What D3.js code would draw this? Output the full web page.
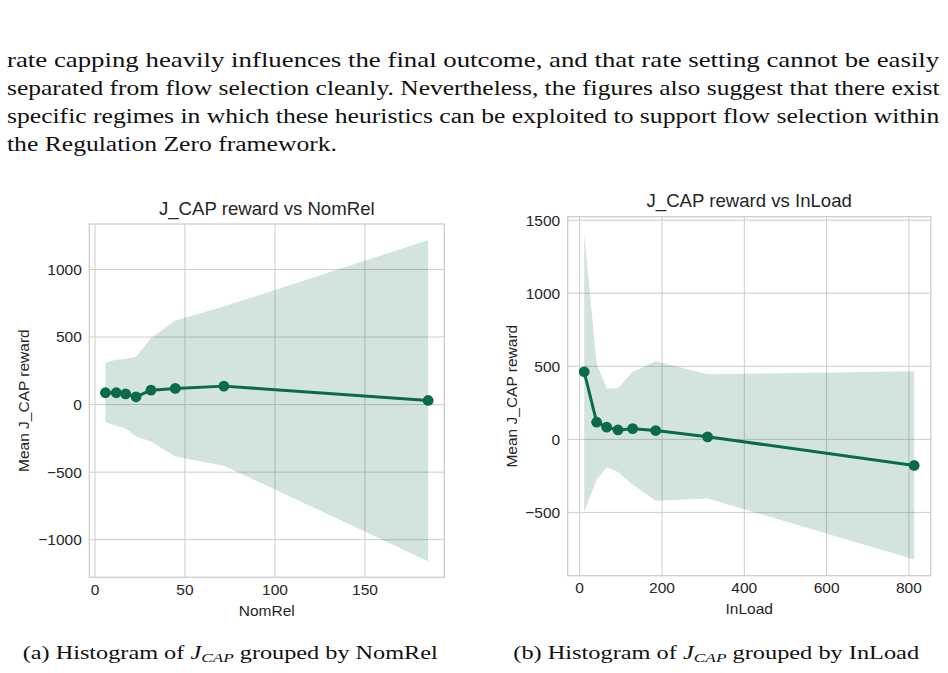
<!DOCTYPE html>
<html>
<head>
<meta charset="utf-8">
<script src="https://cdn.jsdelivr.net/npm/d3@7"></script>
<style>
  html, body { margin: 0; padding: 0; background: #ffffff; }
  svg { display: block; }
</style>
</head>
<body>
<svg id="page" width="948" height="673"></svg>
<script>
// ---------------- data ----------------
const paragraphLines = [
  "rate capping heavily influences the final outcome, and that rate setting cannot be easily",
  "separated from flow selection cleanly. Nevertheless, the figures also suggest that there exist",
  "specific regimes in which these heuristics can be exploited to support flow selection within",
  "the Regulation Zero framework."
];

// Panel (a): J_CAP reward vs NomRel
const nomRelX     = [6.1, 12.1, 17.3, 23.1, 31.4, 44.9, 71.9, 185.4];
const nomRelMean  = [84, 84, 76, 54, 103, 116, 133, 27];
const nomRelUpper = [308, 328, 335, 350, 488, 618, 722, 1214];
const nomRelLower = [-135, -160, -180, -239, -276, -387, -456, -1163];
const nomRelXTicks = [0, 50, 100, 150];
const nomRelYTicks = [-1000, -500, 0, 500, 1000];

// Panel (b): J_CAP reward vs InLoad
const inLoadX     = [12.2, 42.4, 66.7, 94.3, 130, 186, 312, 814];
const inLoadMean  = [459, 114, 80, 61, 70, 57, 14, -182];
const inLoadUpper = [1409, 516, 346, 346, 459, 532, 443, 462];
const inLoadLower = [-500, -280, -195, -227, -314, -423, -409, -825];
const inLoadXTicks = [0, 200, 400, 600, 800];
const inLoadYTicks = [-500, 0, 500, 1000, 1500];

const panels = [
  { title: "J_CAP reward vs NomRel", xLabel: "NomRel", yLabel: "Mean J_CAP reward",
    x: nomRelX, mean: nomRelMean, upper: nomRelUpper, lower: nomRelLower,
    xTicks: nomRelXTicks, yTicks: nomRelYTicks,
    box: { left: 89.3, right: 444.3, top: 224, bottom: 577.3 }, yLabelX: 24 },
  { title: "J_CAP reward vs InLoad", xLabel: "InLoad", yLabel: "Mean J_CAP reward",
    x: inLoadX, mean: inLoadMean, upper: inLoadUpper, lower: inLoadLower,
    xTicks: inLoadXTicks, yTicks: inLoadYTicks,
    box: { left: 567.7, right: 930.7, top: 216.7, bottom: 575.7 }, yLabelX: 511.7 }
];

// ---------------- drawing ----------------
const svg = d3.select("#page");
const GREEN = "#0a6b4a";
const TEXT = "#262626";
const GRID = "#cccccc";
const sans = "'Liberation Sans', Arial, sans-serif";
const serif = "'Liberation Serif', 'DejaVu Serif', serif";

// paragraph: lines stretched horizontally to the justified width
const lineStartX = 7, lineWidth = 933;
let stretch = 1;
paragraphLines.forEach((line, i) => {
  const yPos = 66.5 + i * 28;
  const t = svg.append("text")
    .attr("font-family", serif).attr("font-size", 20.5)
    .attr("fill", "#111").text(line);
  const natural = t.node().getComputedTextLength();
  if (i < paragraphLines.length - 1) stretch = lineWidth / natural;
  const k = (i < paragraphLines.length - 1) ? lineWidth / natural : Math.min(stretch, 1.25);
  t.attr("transform", `translate(${lineStartX},${yPos}) scale(${k},1)`);
});

const minus = s => s.replace("-", "\u2212");

panels.forEach(p => {
  const b = p.box;
  const xs = p.x;
  const xMin = d3.min(xs), xMax = d3.max(xs);
  const yMin = d3.min(p.lower.concat(p.mean)), yMax = d3.max(p.upper.concat(p.mean));
  const xPad = (xMax - xMin) * 0.05, yPad = (yMax - yMin) * 0.05;
  const x = d3.scaleLinear().domain([xMin - xPad, xMax + xPad]).range([b.left, b.right]);
  const y = d3.scaleLinear().domain([yMin - yPad, yMax + yPad]).range([b.bottom, b.top]);

  const g = svg.append("g");

  // grid
  g.append("g").attr("transform", `translate(0,${b.bottom})`)
    .call(d3.axisBottom(x).tickValues(p.xTicks).tickSize(-(b.bottom - b.top)).tickFormat(""))
    .call(a => a.select(".domain").remove())
    .call(a => a.selectAll("line").attr("stroke", GRID).attr("stroke-width", 1));
  g.append("g").attr("transform", `translate(${b.left},0)`)
    .call(d3.axisLeft(y).tickValues(p.yTicks).tickSize(-(b.right - b.left)).tickFormat(""))
    .call(a => a.select(".domain").remove())
    .call(a => a.selectAll("line").attr("stroke", GRID).attr("stroke-width", 1));

  // tick labels
  const xt = g.append("g").attr("transform", `translate(0,${b.bottom})`)
    .call(d3.axisBottom(x).tickValues(p.xTicks).tickSize(0).tickPadding(0).tickFormat(d3.format("d")));
  xt.select(".domain").remove();
  xt.selectAll("text").attr("dy", null).attr("y", 17.5)
    .attr("font-family", sans).attr("font-size", 15.5).attr("fill", TEXT);

  const yt = g.append("g").attr("transform", `translate(${b.left},0)`)
    .call(d3.axisLeft(y).tickValues(p.yTicks).tickSize(0).tickPadding(7.5).tickFormat(d => minus(d3.format("d")(d))));
  yt.select(".domain").remove();
  yt.selectAll("text").attr("dy", "0.35em")
    .attr("font-family", sans).attr("font-size", 15.5).attr("fill", TEXT);

  // band
  const area = d3.area().x((d, i) => x(xs[i])).y0((d, i) => y(p.lower[i])).y1((d, i) => y(p.upper[i]));
  g.append("path").datum(xs).attr("d", area).attr("fill", GREEN).attr("fill-opacity", 0.18);

  // line
  const line = d3.line().x((d, i) => x(xs[i])).y((d, i) => y(p.mean[i]));
  g.append("path").datum(xs).attr("d", line).attr("fill", "none")
    .attr("stroke", GREEN).attr("stroke-width", 3).attr("stroke-linejoin", "round");

  g.selectAll("circle.pt").data(xs).enter().append("circle")
    .attr("cx", (d, i) => x(xs[i])).attr("cy", (d, i) => y(p.mean[i])).attr("r", 5.4)
    .attr("fill", GREEN);

  // frame
  g.append("rect").attr("x", b.left).attr("y", b.top)
    .attr("width", b.right - b.left).attr("height", b.bottom - b.top)
    .attr("fill", "none").attr("stroke", GRID).attr("stroke-width", 1.25);

  // title
  g.append("text").attr("x", (b.left + b.right) / 2).attr("y", b.top - 9.5)
    .attr("text-anchor", "middle").attr("font-family", sans)
    .attr("font-size", 18.6).attr("fill", TEXT).text(p.title);

  // x label
  g.append("text").attr("x", (b.left + b.right) / 2).attr("y", b.bottom + 38.5)
    .attr("text-anchor", "middle").attr("font-family", sans)
    .attr("font-size", 15.5).attr("fill", TEXT).text(p.xLabel);

  // y label
  const cy = (b.top + b.bottom) / 2;
  g.append("text").attr("transform", `translate(${p.yLabelX},${cy}) rotate(-90)`)
    .attr("dy", "0.35em").attr("text-anchor", "middle")
    .attr("font-family", sans)
    .attr("font-size", 15.5).attr("fill", TEXT).text(p.yLabel);
});

// captions
const captions = [
  { x: 22.7, width: 415.3, label: "(a)", tail: " grouped by NomRel" },
  { x: 513.3, width: 406.7, label: "(b)", tail: " grouped by InLoad" }
];
captions.forEach(c => {
  const t = svg.append("text")
    .attr("font-family", serif).attr("font-size", 19).attr("fill", "#111");
  t.append("tspan").text(c.label + " Histogram of ");
  t.append("tspan").attr("font-style", "italic").text("J");
  t.append("tspan").attr("font-style", "italic").attr("font-size", 13.5).attr("dy", 3).text("CAP");
  t.append("tspan").attr("dy", -3).text(c.tail);
  const natural = t.node().getBBox().width;
  t.attr("transform", `translate(${c.x},659) scale(${c.width / natural},1)`);
});
</script>
</body>
</html>
